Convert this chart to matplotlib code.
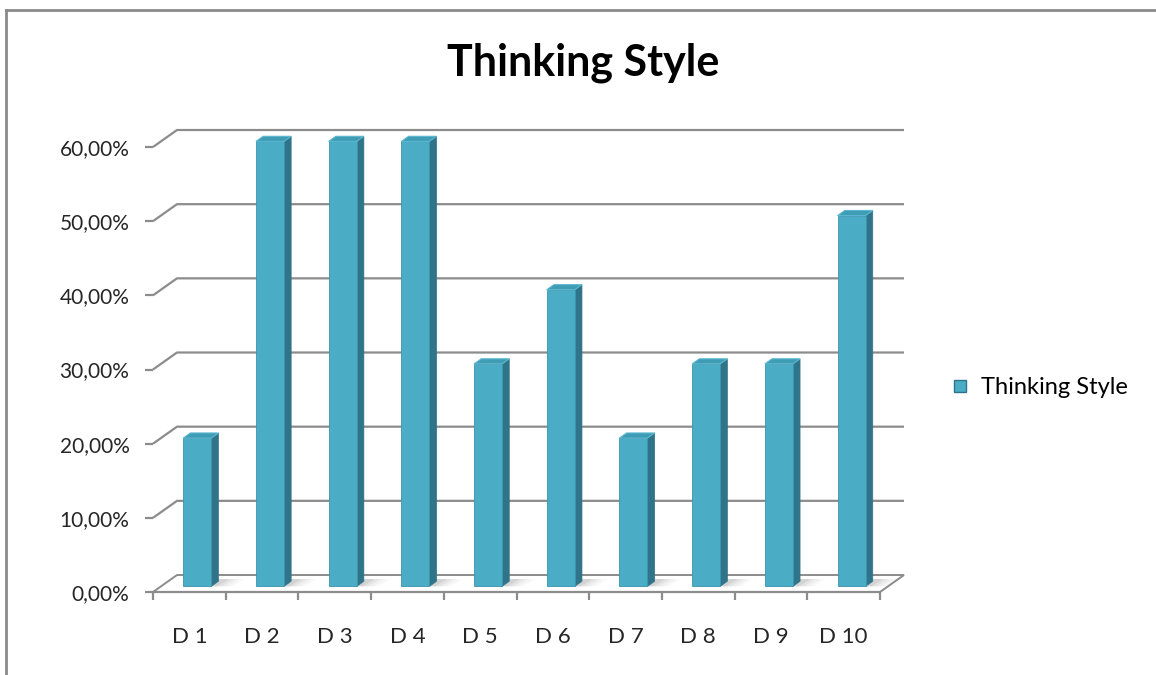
import numpy as np
import matplotlib
matplotlib.use("Agg")
import matplotlib.pyplot as plt
from matplotlib.patches import Polygon
from matplotlib.lines import Line2D

plt.rcParams['font.family'] = ['Lato', 'DejaVu Sans']

# data
categories = ['D 1', 'D 2', 'D 3', 'D 4', 'D 5', 'D 6', 'D 7', 'D 8', 'D 9', 'D 10']
values = [20, 60, 60, 60, 30, 40, 20, 30, 30, 50]
series_name = 'Thinking Style'
yticks = [0, 10, 20, 30, 40, 50, 60]

# pseudo 3d look (depth offset in data units)
dx, dy = 0.33, 2.29
f1, f2 = 0.33, 0.63     # bar front / back as fraction of depth
w = 0.385
front_c = '#4bacc6'
side_c = '#2f7489'
top_c = '#3f9cb5'
grid_c = '#8c8c8c'
txt_c = '#262626'

fig = plt.figure(figsize=(11.56, 6.75), dpi=100)
ax = fig.add_axes([153 / 1156, 83 / 675, 727 / 1156, 445 / 675])
ax.set_xlim(0, 10)
ax.set_ylim(0, 60)
ax.patch.set_visible(False)

# walls: side + back gridlines
for v in yticks[1:]:
    ax.plot([0, dx, 10 + dx], [v, v + dy, v + dy], color=grid_c, lw=1.6,
            clip_on=False, zorder=1, solid_capstyle='butt')

# floor
floor = Polygon([[0, 0], [10, 0], [10 + dx, dy], [dx, dy]], closed=True,
                facecolor='white', edgecolor=grid_c, lw=1.4, clip_on=False, zorder=2)
ax.add_patch(floor)

x = np.arange(len(values))
xc = x + 0.5

# soft shadows on the floor
for i, v in enumerate(values):
    x0 = xc[i] + f1 * dx + w / 2
    for k, a in enumerate([0.12, 0.08, 0.06, 0.04]):
        ext = 0.08 + 0.07 * k
        sh = Polygon([[x0 - w, f1 * dy], [x0 + ext, f1 * dy],
                      [x0 + ext + 0.5 * dx, f2 * dy + 0.3], [x0 - w + 0.5 * dx, f2 * dy + 0.3]],
                     closed=True, facecolor='#606060', edgecolor='none', alpha=a,
                     clip_on=False, zorder=2.5)
        ax.add_patch(sh)

# front faces
bars = ax.bar(xc + f1 * dx, values, width=w, bottom=f1 * dy, color=front_c,
              edgecolor='#3a95ad', lw=0.6, zorder=4, clip_on=False)

# side and top faces
ddx = (f2 - f1) * dx
ddy = (f2 - f1) * dy
for i, v in enumerate(values):
    xl = xc[i] + f1 * dx - w / 2
    xr = xl + w
    yb = f1 * dy
    yt = v + f1 * dy
    side = Polygon([[xr, yb], [xr + ddx, yb + ddy], [xr + ddx, yt + ddy], [xr, yt]],
                   closed=True, facecolor=side_c, edgecolor=side_c, lw=0.5,
                   clip_on=False, zorder=3.5)
    top = Polygon([[xl, yt], [xr, yt], [xr + ddx, yt + ddy], [xl + ddx, yt + ddy]],
                  closed=True, facecolor=top_c, edgecolor='#5bb7cf', lw=0.8,
                  clip_on=False, zorder=4.5)
    ax.add_patch(side)
    ax.add_patch(top)

# axes
for s in ['top', 'right', 'left']:
    ax.spines[s].set_visible(False)
ax.spines['bottom'].set_color(grid_c)
ax.spines['bottom'].set_linewidth(1.6)
ax.spines['bottom'].set_zorder(5)

ax.set_yticks(yticks)
ax.set_yticklabels(['{:.2f}%'.format(v).replace('.', ',') for v in yticks],
                   fontsize=15, color=txt_c)
ax.tick_params(axis='y', length=6, width=1.6, color=grid_c, pad=11)

ax.set_xticks(np.arange(0, 11))
ax.set_xticklabels([])
ax.tick_params(axis='x', which='major', length=6, width=1.6, color=grid_c)
ax.set_xticks(xc, minor=True)
ax.set_xticklabels(categories, minor=True, fontsize=16, color=txt_c)
ax.tick_params(axis='x', which='minor', length=0, pad=25)

# title
fig.text(583 / 1156, 1 - 63 / 675, 'Thinking Style', ha='center', va='center',
         fontsize=31, fontweight='bold', color='black')

# legend
handle = Line2D([], [], linestyle='none', marker='s', markersize=9,
                markerfacecolor=front_c, markeredgecolor='#2f7489', markeredgewidth=1.0)
fig.legend([handle], [series_name], loc='center left',
           bbox_to_anchor=(940 / 1156, 1 - 388 / 675), frameon=False,
           fontsize=17, handlelength=0.7, handletextpad=0.55, borderpad=0)

# chart border
fig.add_artist(Line2D([6 / 1156, 6 / 1156], [0, 1 - 10 / 675], color='#8a8a8a', lw=2))
fig.add_artist(Line2D([6 / 1156, 1], [1 - 10 / 675, 1 - 10 / 675], color='#8a8a8a', lw=2))

fig.savefig('out.png', dpi=100)
